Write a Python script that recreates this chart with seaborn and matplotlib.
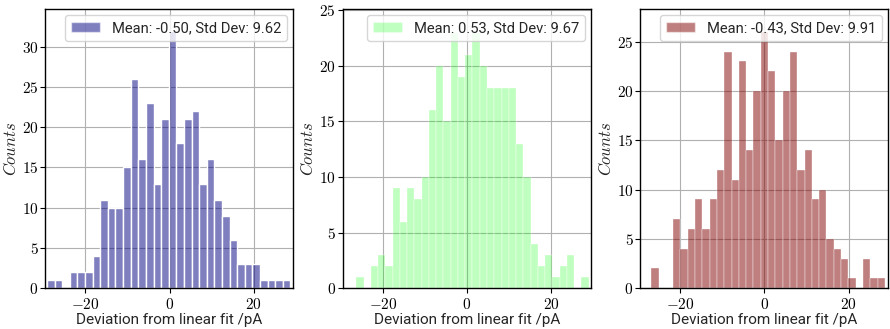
import numpy as np
import pandas as pd
import matplotlib
matplotlib.use("Agg")
import matplotlib.pyplot as plt
from matplotlib.patches import Patch
from matplotlib.ticker import FuncFormatter, MultipleLocator
import seaborn as sns

# Histogram counts of the residuals (32 equal-width bins per channel)
counts_a = [1, 1, 0, 2, 2, 2, 4, 11, 10, 10, 15, 26, 16, 23, 13, 21,
            32, 18, 21, 22, 13, 16, 11, 9, 6, 3, 3, 3, 1, 1, 1, 1]
counts_b = [1, 0, 2, 3, 2, 9, 6, 9, 8, 10, 16, 20, 15, 23, 19, 21,
            23, 20, 18, 18, 18, 18, 13, 10, 4, 2, 3, 1, 2, 3, 0, 1]
counts_c = [2, 0, 0, 7, 4, 6, 9, 6, 9, 12, 24, 11, 23, 14, 20, 26,
            22, 15, 20, 24, 12, 14, 9, 10, 5, 4, 3, 1, 0, 3, 1, 1]

# Smallest and largest residual of each channel (pA)
data_min = [-29.1, -26.3, -26.9]
data_max = [28.7, 28.9, 28.6]

# Summary statistics shown in the legends
means = [-0.50, 0.53, -0.43]
stds = [9.62, 9.67, 9.91]

colors = ["navy", "#00ff00", "maroon"]
alphas = [0.5, 0.25, 0.5]
edge_widths = [1.0, 0.25, 0.25]
y_tops = [34.66, 25.1, 28.3]

sns.set_theme(style="ticks", rc={
    "axes.grid": True,
    "grid.color": "#b0b0b0",
    "grid.linewidth": 0.8,
    "axes.edgecolor": "black",
    "axes.linewidth": 1.0,
    "xtick.color": "black",
    "ytick.color": "black",
})
plt.rcParams["font.family"] = ["Roboto", "DejaVu Sans"]
plt.rcParams["mathtext.fontset"] = "cm"

fig, axes = plt.subplots(1, 3, figsize=(8.9, 3.29), dpi=100)
fig.subplots_adjust(left=0.051, right=0.998, bottom=0.124, top=0.972, wspace=0.2)

math_fmt = FuncFormatter(lambda v, pos: f"${v:g}$")

for i, (ax, counts) in enumerate(zip(axes, [counts_a, counts_b, counts_c])):
    edges = np.linspace(data_min[i], data_max[i], len(counts) + 1)
    table = pd.DataFrame({
        "deviation": 0.5 * (edges[:-1] + edges[1:]),
        "count": np.asarray(counts, dtype=float),
    })
    sns.histplot(data=table, x="deviation", weights="count",
                 bins=edges.tolist(), ax=ax,
                 color=colors[i], alpha=alphas[i], edgecolor="white",
                 linewidth=edge_widths[i])
    ax.set_axisbelow(True)
    ax.set_xlim(-29.5, 29.4)
    ax.set_ylim(0, y_tops[i])
    ax.xaxis.set_major_locator(MultipleLocator(20))
    ax.yaxis.set_major_locator(MultipleLocator(5))
    ax.xaxis.set_major_formatter(math_fmt)
    ax.yaxis.set_major_formatter(math_fmt)
    ax.tick_params(labelsize=11, length=3.5, width=0.8)
    ax.tick_params(axis="y", pad=1.5)
    ax.tick_params(axis="x", pad=2.5)
    ax.grid(True)
    for s in ax.spines.values():
        s.set_visible(True)
        s.set_color("black")
    ax.set_xlabel("Deviation from linear fit /pA", fontsize=11, labelpad=1)
    ax.set_ylabel("$Counts$", fontsize=12, labelpad=2)
    handle = Patch(facecolor=colors[i], alpha=alphas[i])
    ax.legend(handles=[handle],
              labels=[f"Mean: {means[i]:.2f}, Std Dev: {stds[i]:.2f}"],
              loc="upper right", fontsize=10.6, framealpha=0.8,
              fancybox=True, borderaxespad=0.4, handlelength=2.0)

fig.savefig("out.png", dpi=100)
